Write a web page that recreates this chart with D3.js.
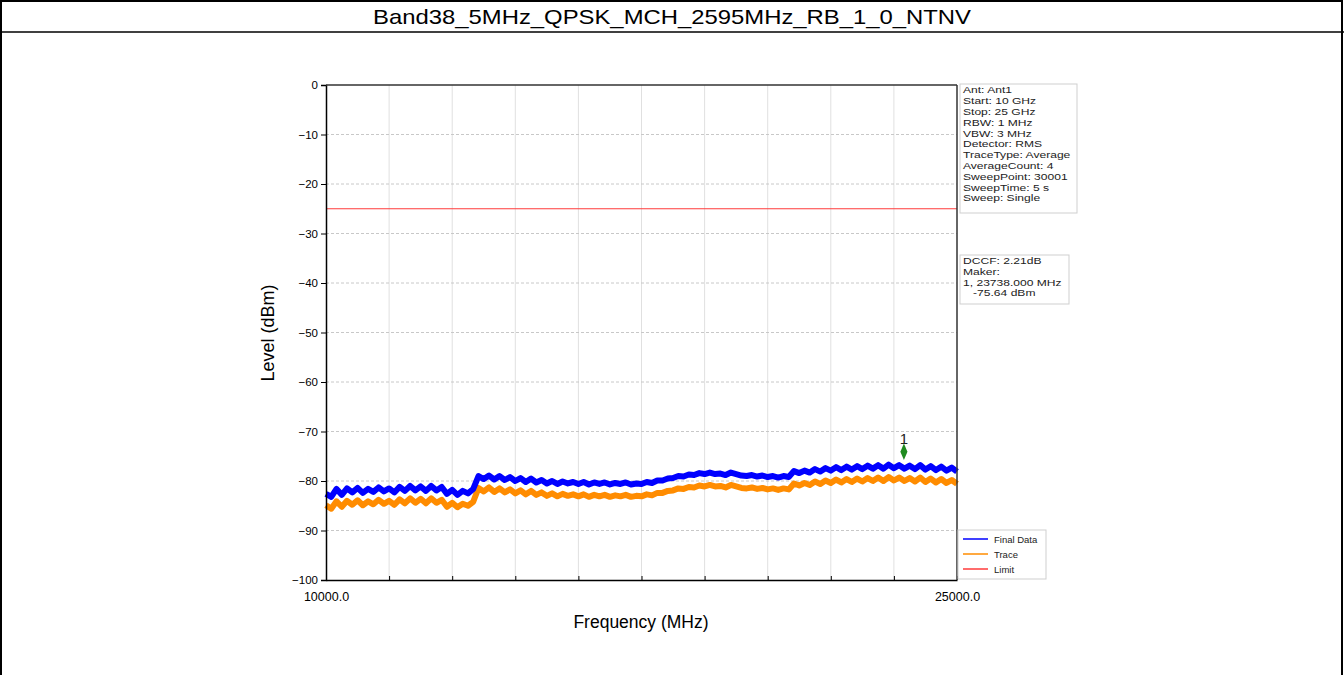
<!DOCTYPE html>
<html><head><meta charset="utf-8">
<script src="https://cdn.jsdelivr.net/npm/d3@7"></script>
<style>
html,body{margin:0;padding:0;background:#fff;}
svg{display:block;}
text{font-family:"Liberation Sans",Arial,sans-serif;}
</style></head>
<body>
<svg id="chart" width="1344" height="675"></svg>
<script>
const title = "Band38_5MHz_QPSK_MCH_2595MHz_RB_1_0_NTNV";
const freqStart = 10000, freqStep = 125;
const finalData = [
-82.6,-83.2,-81.6,-82.8,-81.5,-82.3,-81.4,-82.4,-81.6,-82.2,
-81.3,-82.1,-81.5,-82.3,-81.2,-82.0,-81.0,-81.9,-81.1,-82.0,
-81.0,-81.9,-81.2,-82.6,-81.8,-82.8,-82.0,-82.5,-81.6,-79.0,
-79.6,-78.9,-79.7,-79.0,-79.8,-79.2,-80.0,-79.4,-80.2,-79.5,
-80.3,-79.8,-80.5,-80.0,-80.6,-80.1,-80.5,-80.2,-80.6,-80.2,
-80.7,-80.3,-80.6,-80.3,-80.7,-80.4,-80.6,-80.3,-80.7,-80.5,
-80.6,-80.2,-80.4,-79.9,-79.9,-79.5,-79.4,-79.0,-79.1,-78.7,
-78.8,-78.4,-78.6,-78.3,-78.6,-78.5,-78.8,-78.3,-78.6,-78.9,
-79.0,-78.8,-79.1,-78.9,-79.2,-79.0,-79.3,-79.0,-79.2,-78.0,
-78.4,-77.9,-78.3,-77.6,-78.1,-77.4,-77.9,-77.2,-77.8,-77.1,
-77.7,-77.0,-77.6,-76.9,-77.5,-76.8,-77.5,-76.7,-77.4,-76.8,
-77.5,-76.9,-77.6,-76.8,-77.7,-77.0,-77.8,-77.1,-77.9,-77.3,
-78.1];
const traceData = [
-84.9,-85.6,-84.1,-85.2,-84.0,-84.8,-83.9,-84.9,-84.1,-84.7,
-83.8,-84.6,-84.0,-84.8,-83.7,-84.5,-83.5,-84.4,-83.6,-84.5,
-83.5,-84.4,-83.8,-85.2,-84.4,-85.3,-84.6,-85.0,-84.2,-81.4,
-82.1,-81.3,-82.2,-81.5,-82.3,-81.7,-82.5,-81.9,-82.7,-82.0,
-82.8,-82.3,-83.0,-82.5,-83.1,-82.6,-83.0,-82.7,-83.1,-82.7,
-83.2,-82.8,-83.1,-82.8,-83.2,-82.9,-83.1,-82.8,-83.2,-83.0,
-83.1,-82.7,-82.9,-82.4,-82.4,-82.0,-81.9,-81.5,-81.6,-81.2,
-81.3,-80.9,-81.1,-80.8,-81.1,-81.0,-81.3,-80.8,-81.1,-81.4,
-81.5,-81.3,-81.6,-81.4,-81.7,-81.5,-81.8,-81.5,-81.7,-80.5,
-80.9,-80.4,-80.8,-80.1,-80.6,-79.9,-80.4,-79.7,-80.3,-79.6,
-80.2,-79.5,-80.1,-79.4,-80.0,-79.3,-80.0,-79.2,-79.9,-79.3,
-80.0,-79.4,-80.1,-79.3,-80.2,-79.5,-80.3,-79.6,-80.4,-79.8,
-80.6];
const limitFreqs = [10000, 25000];
const limitLevels = [-25, -25];
const markerFreq = 23738;
const markerLevel = -74.1;
const markerLabel = "1";
const xDomain = [10000, 25000];
const yDomain = [-100, 0];
const xTicks = [10000,11500,13000,14500,16000,17500,19000,20500,22000,23500,25000];
const xTickLabels = ["10000.0","","","","","","","","","","25000.0"];
const yTicks = [0,-10,-20,-30,-40,-50,-60,-70,-80,-90,-100];
const infoLines = ["Ant: Ant1","Start: 10 GHz","Stop: 25 GHz","RBW: 1 MHz","VBW: 3 MHz","Detector: RMS","TraceType: Average","AverageCount: 4","SweepPoint: 30001","SweepTime: 5 s","Sweep: Single"];
const markerLines = ["DCCF: 2.21dB","Maker:","1, 23738.000 MHz","   -75.64 dBm"];
const legendNames = ["Final Data","Trace","Limit"];
const legendColors = ["#0000ff","#ff8c00","#ff3b3b"];

const svg = d3.select("#chart");
const L = 326, R = 957, T = 85, B = 580;
const x = d3.scaleLinear().domain(xDomain).range([L, R]);
const y = d3.scaleLinear().domain(yDomain).range([B, T]);

// outer frame & title
svg.append("rect").attr("x",1).attr("y",1).attr("width",1341).attr("height",720)
  .attr("fill","none").attr("stroke","#000").attr("stroke-width",2);
svg.append("line").attr("x1",0).attr("x2",1344).attr("y1",32).attr("y2",32)
  .attr("stroke","#000").attr("stroke-width",1.5);
svg.append("text").attr("x",672).attr("y",24).attr("text-anchor","middle")
  .style("font-family","'Liberation Sans Narrow','Arial Narrow','Liberation Sans',sans-serif")
  .attr("font-size",21).attr("textLength",598).attr("lengthAdjust","spacingAndGlyphs")
  .attr("fill","#000").text(title);

// grid
const g = svg.append("g");
g.selectAll(".vg").data(xTicks.slice(1,-1)).enter().append("line")
  .attr("x1",d=>x(d)).attr("x2",d=>x(d)).attr("y1",T).attr("y2",B)
  .attr("stroke","#e0e0e0").attr("stroke-width",1);
g.selectAll(".hg").data(yTicks.slice(1,-1)).enter().append("line")
  .attr("x1",L).attr("x2",R).attr("y1",d=>y(d)).attr("y2",d=>y(d))
  .attr("stroke","#c8c8c8").attr("stroke-width",1).attr("stroke-dasharray","3,2");

// traces
const line = d3.line().x(d=>x(d[0])).y(d=>y(d[1]));
const tracePts = traceData.map((v,i)=>[freqStart+i*freqStep, v]);
const finalPts = finalData.map((v,i)=>[freqStart+i*freqStep, v]);
svg.append("path").datum(tracePts).attr("d",line).attr("fill","none")
  .attr("stroke",legendColors[1]).attr("stroke-width",6).attr("stroke-linejoin","round");
svg.append("path").datum(finalPts).attr("d",line).attr("fill","none")
  .attr("stroke",legendColors[0]).attr("stroke-width",6).attr("stroke-linejoin","round");
svg.append("path").datum(limitFreqs.map((f,i)=>[f,limitLevels[i]])).attr("d",line)
  .attr("fill","none").attr("stroke",legendColors[2]).attr("stroke-width",1.2);

// axes
const yAxis = d3.axisLeft(y).tickValues(yTicks).tickSize(5).tickFormat(d=>d===0?"0":"\u2212"+Math.abs(d));
const yg = svg.append("g").attr("transform",`translate(${L},0)`).call(yAxis);
yg.selectAll("text").attr("font-size",11.5).attr("fill","#000").attr("font-family","Liberation Sans, Arial, sans-serif");
yg.select(".domain").attr("stroke","#000").attr("stroke-width",1.5);
const xAxis = d3.axisBottom(x).tickValues(xTicks).tickSizeInner(-4).tickSizeOuter(0).tickPadding(12)
  .tickFormat((d,i)=>xTickLabels[i]);
const xg = svg.append("g").attr("transform",`translate(0,${B})`).call(xAxis);
xg.selectAll("text").attr("font-size",12.5).attr("fill","#000").attr("font-family","Liberation Sans, Arial, sans-serif");
xg.select(".domain").attr("stroke","#000").attr("stroke-width",1.5);
svg.append("line").attr("x1",L).attr("x2",R).attr("y1",T).attr("y2",T).attr("stroke","#333").attr("stroke-width",1.5);
svg.append("line").attr("x1",R).attr("x2",R).attr("y1",T).attr("y2",B).attr("stroke","#333").attr("stroke-width",1.5);

// axis titles
svg.append("text").attr("x",641).attr("y",628).attr("text-anchor","middle").attr("font-size",17.5).text("Frequency (MHz)");
svg.append("text").attr("transform","translate(274,333) rotate(-90)").attr("text-anchor","middle").attr("font-size",18).text("Level (dBm)");

// marker
const mx = x(markerFreq), my = y(markerLevel);
svg.append("path").attr("d",d3.symbol().type(d3.symbolDiamond).size(60)())
  .attr("transform",`translate(${mx},${my}) scale(0.85,1.15)`).attr("fill","#1f8a1f");
svg.append("text").attr("x",mx).attr("y",my-8).attr("text-anchor","middle").attr("font-size",15).attr("fill","#222").text(markerLabel);

// info boxes
function textBox(x0,y0,w,h,lines,lh,fs,sx){
  svg.append("rect").attr("x",x0).attr("y",y0).attr("width",w).attr("height",h)
    .attr("fill","#fff").attr("stroke","#cfcfcf").attr("stroke-width",1);
  svg.append("g").attr("transform",`translate(${x0+3},${y0}) scale(${sx},1)`)
    .selectAll("text").data(lines).enter().append("text")
    .attr("x",0).attr("y",(d,i)=>9.5+i*lh).attr("font-size",fs).attr("fill","#222")
    .attr("xml:space","preserve").style("white-space","pre").text(d=>d);
}
textBox(960,84,117,129,infoLines,10.8,9.3,1.3);
textBox(960,255,109,49,markerLines,10.6,9.3,1.3);

// legend
svg.append("rect").attr("x",958).attr("y",530).attr("width",88).attr("height",49)
  .attr("fill","#fff").attr("stroke","#cfcfcf");
legendNames.forEach((n,i)=>{
  const ly = 539 + i*15;
  svg.append("line").attr("x1",963).attr("x2",988).attr("y1",ly).attr("y2",ly).attr("stroke",legendColors[i]).attr("stroke-width",1.5);
  svg.append("text").attr("x",994).attr("y",ly+3.5).attr("font-size",9.5).attr("fill","#222").text(n);
});
</script>
</body></html>
